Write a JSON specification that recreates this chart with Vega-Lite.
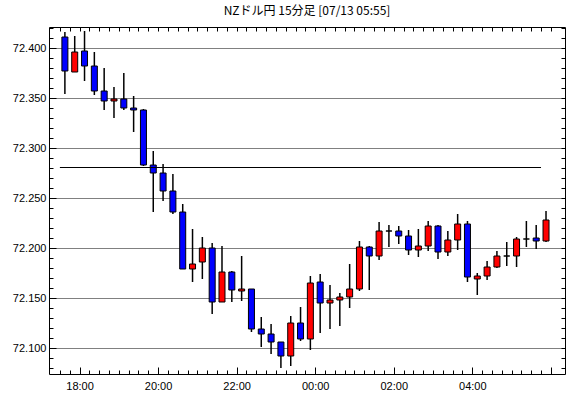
{
  "$schema": "https://vega.github.io/schema/vega-lite/v6.json",
  "width": 516,
  "height": 347,
  "autosize": {"type": "none"},
  "padding": {"left": 49, "top": 27, "right": 5, "bottom": 24},
  "background": "white",
  "title": {"text": "NZドル円 15分足 [07/13 05:55]", "font": "Noto Sans CJK JP", "fontSize": 12, "fontWeight": "normal", "color": "black", "anchor": "middle", "offset": 9},
  "config": {
    "view": {"stroke": "black", "strokeWidth": 1},
    "axis": {"domain": false, "labelFont": "Liberation Sans", "labelFontSize": 11, "labelColor": "black", "tickColor": "black", "tickWidth": 1, "title": null, "labelOverlap": false}
  },
  "datasets": {
    "hline": [{"from": "17:30", "to": "05:45", "v": 72.281}]
  },
  "data": {"values": [
    {"time": "17:30", "o": 72.411, "h": 72.416, "l": 72.354, "c": 72.377},
    {"time": "17:45", "o": 72.376, "h": 72.412, "l": 72.376, "c": 72.396},
    {"time": "18:00", "o": 72.397, "h": 72.417, "l": 72.367, "c": 72.382},
    {"time": "18:15", "o": 72.382, "h": 72.396, "l": 72.353, "c": 72.357},
    {"time": "18:30", "o": 72.357, "h": 72.380, "l": 72.338, "c": 72.347},
    {"time": "18:45", "o": 72.347, "h": 72.361, "l": 72.330, "c": 72.349},
    {"time": "19:00", "o": 72.349, "h": 72.375, "l": 72.338, "c": 72.340},
    {"time": "19:15", "o": 72.340, "h": 72.352, "l": 72.316, "c": 72.338},
    {"time": "19:30", "o": 72.338, "h": 72.339, "l": 72.282, "c": 72.283},
    {"time": "19:45", "o": 72.283, "h": 72.297, "l": 72.236, "c": 72.275},
    {"time": "20:00", "o": 72.275, "h": 72.284, "l": 72.247, "c": 72.257},
    {"time": "20:15", "o": 72.257, "h": 72.274, "l": 72.234, "c": 72.236},
    {"time": "20:30", "o": 72.236, "h": 72.244, "l": 72.179, "c": 72.179},
    {"time": "20:45", "o": 72.179, "h": 72.219, "l": 72.166, "c": 72.184},
    {"time": "21:00", "o": 72.186, "h": 72.211, "l": 72.169, "c": 72.200},
    {"time": "21:15", "o": 72.200, "h": 72.205, "l": 72.134, "c": 72.146},
    {"time": "21:30", "o": 72.146, "h": 72.202, "l": 72.146, "c": 72.176},
    {"time": "21:45", "o": 72.176, "h": 72.177, "l": 72.146, "c": 72.158},
    {"time": "22:00", "o": 72.157, "h": 72.192, "l": 72.147, "c": 72.159},
    {"time": "22:15", "o": 72.159, "h": 72.159, "l": 72.116, "c": 72.119},
    {"time": "22:30", "o": 72.119, "h": 72.131, "l": 72.101, "c": 72.114},
    {"time": "22:45", "o": 72.114, "h": 72.124, "l": 72.094, "c": 72.106},
    {"time": "23:00", "o": 72.106, "h": 72.106, "l": 72.080, "c": 72.092},
    {"time": "23:15", "o": 72.092, "h": 72.132, "l": 72.082, "c": 72.125},
    {"time": "23:30", "o": 72.125, "h": 72.141, "l": 72.107, "c": 72.109},
    {"time": "23:45", "o": 72.109, "h": 72.172, "l": 72.098, "c": 72.165},
    {"time": "00:00", "o": 72.166, "h": 72.174, "l": 72.115, "c": 72.145},
    {"time": "00:15", "o": 72.145, "h": 72.163, "l": 72.119, "c": 72.148},
    {"time": "00:30", "o": 72.148, "h": 72.155, "l": 72.122, "c": 72.151},
    {"time": "00:45", "o": 72.151, "h": 72.184, "l": 72.140, "c": 72.159},
    {"time": "01:00", "o": 72.159, "h": 72.207, "l": 72.157, "c": 72.201},
    {"time": "01:15", "o": 72.201, "h": 72.202, "l": 72.158, "c": 72.192},
    {"time": "01:30", "o": 72.192, "h": 72.226, "l": 72.188, "c": 72.217},
    {"time": "01:45", "o": 72.217, "h": 72.223, "l": 72.201, "c": 72.217},
    {"time": "02:00", "o": 72.217, "h": 72.222, "l": 72.204, "c": 72.212},
    {"time": "02:15", "o": 72.212, "h": 72.218, "l": 72.193, "c": 72.198},
    {"time": "02:30", "o": 72.198, "h": 72.219, "l": 72.191, "c": 72.202},
    {"time": "02:45", "o": 72.202, "h": 72.227, "l": 72.197, "c": 72.222},
    {"time": "03:00", "o": 72.222, "h": 72.223, "l": 72.189, "c": 72.196},
    {"time": "03:15", "o": 72.196, "h": 72.217, "l": 72.192, "c": 72.208},
    {"time": "03:30", "o": 72.208, "h": 72.234, "l": 72.198, "c": 72.224},
    {"time": "03:45", "o": 72.224, "h": 72.227, "l": 72.166, "c": 72.171},
    {"time": "04:00", "o": 72.169, "h": 72.175, "l": 72.153, "c": 72.172},
    {"time": "04:15", "o": 72.172, "h": 72.187, "l": 72.168, "c": 72.181},
    {"time": "04:30", "o": 72.181, "h": 72.197, "l": 72.180, "c": 72.192},
    {"time": "04:45", "o": 72.192, "h": 72.206, "l": 72.182, "c": 72.192},
    {"time": "05:00", "o": 72.192, "h": 72.211, "l": 72.181, "c": 72.209},
    {"time": "05:15", "o": 72.209, "h": 72.227, "l": 72.201, "c": 72.209},
    {"time": "05:30", "o": 72.210, "h": 72.223, "l": 72.199, "c": 72.207},
    {"time": "05:45", "o": 72.207, "h": 72.237, "l": 72.206, "c": 72.228}
  ]},
  "resolve": {"axis": {"x": "independent", "y": "independent"}},
  "layer": [
    {
      "transform": [
        {"calculate": "toNumber(substring(datum.time, 0, 2)) + toNumber(substring(datum.time, 3, 5)) / 60", "as": "hr0"},
        {"calculate": "datum.hr0 < 12 ? datum.hr0 + 24 : datum.hr0", "as": "hr"}
      ],
      "mark": {"type": "rule", "xOffset": 5, "color": "black", "strokeWidth": 1.5},
      "encoding": {
        "x": {"field": "hr", "type": "quantitative",
          "scale": {"domain": [17.35, 30.2333], "nice": false, "zero": false},
          "axis": {"orient": "bottom", "values": [18, 20, 22, 24, 26, 28, 30], "labelExpr": "datum.value == 30 ? '' : ((datum.value % 24 < 10 ? '0' : '') + (datum.value % 24) + ':00')", "grid": false, "tickSize": -7, "labelPadding": 13}},
        "y": {"field": "l", "type": "quantitative",
          "scale": {"domain": [72.074, 72.421], "nice": false, "zero": false},
          "axis": {"orient": "left", "tickCount": 7, "format": ".3f", "grid": true, "gridColor": "black", "gridDash": [1, 1], "gridOpacity": 1, "gridWidth": 1, "tickSize": -7, "labelPadding": 10}},
        "y2": {"field": "h"}
      }
    },
    {
      "transform": [
        {"calculate": "toNumber(substring(datum.time, 0, 2)) + toNumber(substring(datum.time, 3, 5)) / 60", "as": "hr0"},
        {"calculate": "datum.hr0 < 12 ? datum.hr0 + 24 : datum.hr0", "as": "hr"}
      ],
      "mark": {"type": "bar", "xOffset": 5, "size": 6, "stroke": "black", "strokeWidth": 1},
      "encoding": {
        "x": {"field": "hr", "type": "quantitative", "axis": {"orient": "bottom", "values": [17.5, 17.75, 18, 18.25, 18.5, 18.75, 19, 19.25, 19.5, 19.75, 20, 20.25, 20.5, 20.75, 21, 21.25, 21.5, 21.75, 22, 22.25, 22.5, 22.75, 23, 23.25, 23.5, 23.75, 24, 24.25, 24.5, 24.75, 25, 25.25, 25.5, 25.75, 26, 26.25, 26.5, 26.75, 27, 27.25, 27.5, 27.75, 28, 28.25, 28.5, 28.75, 29, 29.25, 29.5, 29.75, 30], "labels": false, "grid": false, "tickSize": -4}},
        "y": {"field": "o", "type": "quantitative", "axis": {"orient": "left", "tickCount": 35, "labels": false, "grid": false, "tickSize": -4}},
        "y2": {"field": "c"},
        "fill": {"condition": [{"test": "datum.c > datum.o", "value": "#ff0000"}, {"test": "datum.c < datum.o", "value": "#0000ff"}], "value": "#000000"}
      }
    },
    {
      "data": {"name": "hline"},
      "transform": [
        {"calculate": "toNumber(substring(datum.from, 0, 2)) + toNumber(substring(datum.from, 3, 5)) / 60", "as": "x1"},
        {"calculate": "toNumber(substring(datum.to, 0, 2)) + toNumber(substring(datum.to, 3, 5)) / 60 + 24", "as": "x2"}
      ],
      "mark": {"type": "rule", "color": "black", "strokeWidth": 1, "yOffset": 0.5},
      "encoding": {
        "x": {"field": "x1", "type": "quantitative", "axis": {"orient": "top", "values": [17.5, 17.75, 18, 18.25, 18.5, 18.75, 19, 19.25, 19.5, 19.75, 20, 20.25, 20.5, 20.75, 21, 21.25, 21.5, 21.75, 22, 22.25, 22.5, 22.75, 23, 23.25, 23.5, 23.75, 24, 24.25, 24.5, 24.75, 25, 25.25, 25.5, 25.75, 26, 26.25, 26.5, 26.75, 27, 27.25, 27.5, 27.75, 28, 28.25, 28.5, 28.75, 29, 29.25, 29.5, 29.75, 30], "labels": false, "grid": false, "tickSize": -4}},
        "x2": {"field": "x2"},
        "y": {"field": "v", "type": "quantitative", "axis": {"orient": "right", "tickCount": 35, "labels": false, "grid": false, "tickSize": -4}}
      }
    }
  ]
}
